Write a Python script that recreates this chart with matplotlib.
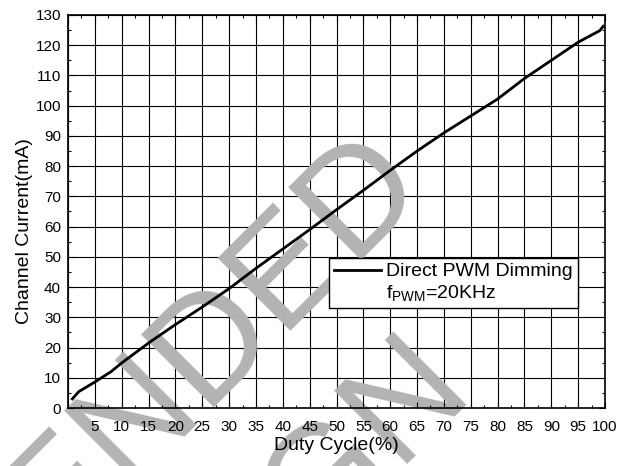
import matplotlib
matplotlib.use("Agg")
import matplotlib.pyplot as plt
from matplotlib.lines import Line2D
from matplotlib.ticker import MultipleLocator

# data
duty = [0.8, 2, 5, 8, 10, 15, 20, 25, 30, 35, 40, 45, 50, 55, 60, 65, 70,
        75, 80, 85, 90, 95, 99, 99.7]
current = [3.0, 5.4, 8.6, 12.0, 14.9, 21.5, 27.6, 33.4, 39.5, 46.2, 52.6,
           59.0, 65.6, 72.0, 78.6, 85.0, 91.0, 96.6, 102.2, 109.0, 115.0,
           121.0, 124.8, 126.3]

x_ticks = list(range(0, 101, 5))
x_labels = [""] + [str(v) for v in range(5, 101, 5)]
y_ticks = list(range(0, 131, 10))

series_label = "Direct PWM Dimming"
freq_label = r"f$_{\mathrm{PWM}}$=20KHz"
watermark = ["NOT RECOMMENDED", "FOR NEW DESIGN"]

plt.rcParams["font.family"] = ["Liberation Sans", "DejaVu Sans"]
plt.rcParams["mathtext.fontset"] = "custom"
plt.rcParams["mathtext.rm"] = "Liberation Sans"

fig = plt.figure(figsize=(6.36, 4.66), dpi=100)
ax = fig.add_axes([68 / 636, 58 / 466, 537 / 636, 393 / 466])

# grid drawn by hand so the watermark can sit between grid and curve
for xv in x_ticks:
    ax.axvline(xv, color="black", lw=0.8, zorder=0.8)
for yv in y_ticks:
    ax.axhline(yv, color="black", lw=0.8, zorder=0.8)

# watermark: two lines of big gray text rotated 45 deg (right-end anchors, pixels)
wm_anchor = [(430 / 636, 1 - 192 / 466), (476 / 636, 1 - 396 / 466)]
for txt, (wx, wy) in zip(watermark, wm_anchor):
    ax.text(wx, wy, txt, transform=fig.transFigure, fontsize=108,
            color="#b3b3b3", rotation=45, rotation_mode="anchor",
            ha="right", va="baseline", zorder=1, clip_on=False)

line, = ax.plot(duty, current, color="black", lw=2.0, zorder=2)

ax.set_xlim(0, 100)
ax.set_ylim(0, 130)
ax.set_xticks(x_ticks)
ax.set_xticklabels(x_labels)
ax.set_yticks(y_ticks)
ax.xaxis.set_minor_locator(MultipleLocator(2.5))
ax.yaxis.set_minor_locator(MultipleLocator(5))
ax.tick_params(which="both", direction="in", top=True, right=True,
               labelsize=11, color="black")
ax.tick_params(which="major", length=4, width=0.8)
ax.tick_params(which="minor", length=2.5, width=0.8)
ax.tick_params(axis="x", pad=8.5)
ax.tick_params(axis="y", pad=5)
ax.xaxis.set_zorder(2.5)
ax.yaxis.set_zorder(2.5)
for sp in ax.spines.values():
    sp.set_linewidth(1.2)
    sp.set_zorder(2.6)

ax.set_xlabel("Duty Cycle(%)", fontsize=14, labelpad=2.5)
ax.set_ylabel("Channel Current(mA)", fontsize=14)
ax.yaxis.set_label_coords(-0.066, 0.45)

blank = Line2D([], [], color="none")
leg = ax.legend([line, blank], [series_label, freq_label], loc="upper left",
                bbox_to_anchor=(0.486, 0.382), borderaxespad=0, fontsize=14,
                fancybox=False, framealpha=1, edgecolor="black",
                handlelength=2.4, handletextpad=0.3, borderpad=0.25,
                labelspacing=0.15)
leg.get_frame().set_linewidth(1.0)
leg.set_zorder(5)

fig.savefig("out.png", dpi=100)
